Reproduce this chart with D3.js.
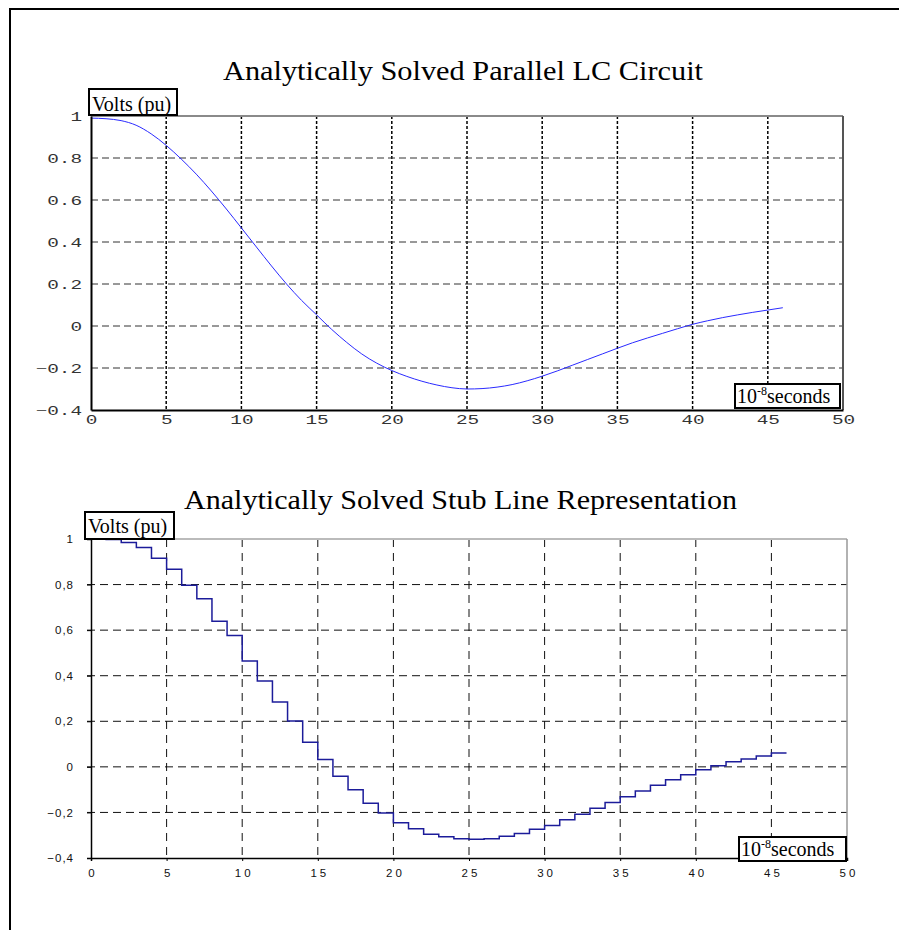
<!DOCTYPE html>
<html>
<head>
<meta charset="utf-8">
<script src="https://d3js.org/d3.v7.min.js"></script>
<style>
  body { margin: 0; background: #fff; }
  svg { display: block; }
</style>
</head>
<body>
<script>

// data
var timeTop = [0, 1, 2, 3, 4, 5, 6, 7, 8, 9, 10, 11, 12, 13, 14, 15, 16, 17, 18, 19, 20, 21, 22, 23,
               24, 25, 26, 27, 28, 29, 30, 31, 32, 33, 34, 35, 36, 37, 38, 39, 40, 41, 42, 43, 44, 45, 46];
var voltsTop = [0.99, 0.987, 0.978, 0.956, 0.915, 0.86, 0.795, 0.723, 0.643, 0.557, 0.467, 0.376, 0.286, 0.2,
                0.122, 0.053, -0.016, -0.078, -0.133, -0.177, -0.212, -0.24, -0.263, -0.281, -0.294, -0.30,
                -0.298, -0.291, -0.279, -0.261, -0.239, -0.214, -0.187, -0.16, -0.133, -0.106, -0.08, -0.057,
                -0.035, -0.013, 0.008, 0.025, 0.04, 0.053, 0.065, 0.076, 0.087];

// stub line: one value per time step [i, i+1)
var stubTime = [0, 1, 2, 3, 4, 5, 6, 7, 8, 9, 10, 11, 12, 13, 14, 15, 16, 17, 18, 19, 20, 21, 22, 23,
                24, 25, 26, 27, 28, 29, 30, 31, 32, 33, 34, 35, 36, 37, 38, 39, 40, 41, 42, 43, 44, 45, 46];
var stubVolts = [1.0, 0.998, 0.985, 0.963, 0.915, 0.867, 0.797, 0.738, 0.639, 0.577, 0.465, 0.377, 0.285,
                 0.201, 0.108, 0.032, -0.041, -0.101, -0.160, -0.202, -0.245, -0.272, -0.296, -0.307,
                 -0.316, -0.318, -0.315, -0.305, -0.293, -0.274, -0.257, -0.232, -0.208, -0.182, -0.156,
                 -0.131, -0.106, -0.081, -0.057, -0.035, -0.013, 0.005, 0.022, 0.035, 0.048, 0.061];

var xTicks = [0, 5, 10, 15, 20, 25, 30, 35, 40, 45, 50];
var yTicks = [-0.4, -0.2, 0, 0.2, 0.4, 0.6, 0.8, 1];

var titleTop = "Analytically Solved Parallel LC Circuit";
var titleBottom = "Analytically Solved Stub Line Representation";

var width = 899, height = 930;

var svg = d3.select("body").append("svg")
    .attr("width", width)
    .attr("height", height);

// page frame
svg.append("path")
    .attr("d", "M10," + height + "V9H" + width)
    .attr("fill", "none")
    .attr("stroke", "#000")
    .attr("stroke-width", 2);

// ---------- top chart ----------
var x1 = d3.scaleLinear().domain([0, 50]).range([91, 843]);
var y1 = d3.scaleLinear().domain([-0.4, 1]).range([410, 116]);

var topChart = svg.append("g");

topChart.append("text")
    .attr("x", 223).attr("y", 80)
    .attr("textLength", 480).attr("lengthAdjust", "spacingAndGlyphs")
    .style("font-family", "'Liberation Serif', 'Times New Roman', serif")
    .style("font-size", "28px")
    .text(titleTop);

// grid
topChart.selectAll(".vgrid")
    .data(xTicks.filter(function(d) { return d > 0 && d < 50; }))
    .enter().append("line")
    .attr("x1", function(d) { return x1(d); })
    .attr("x2", function(d) { return x1(d); })
    .attr("y1", y1(1)).attr("y2", y1(-0.4))
    .attr("stroke", "#000").attr("stroke-width", 1.5)
    .style("stroke-dasharray", "3, 2");

topChart.selectAll(".hgrid")
    .data(yTicks.filter(function(d) { return d > -0.4 && d < 1; }))
    .enter().append("line")
    .attr("x1", x1(0)).attr("x2", x1(50))
    .attr("y1", function(d) { return y1(d); })
    .attr("y2", function(d) { return y1(d); })
    .attr("stroke", "#333").attr("stroke-width", 1)
    .style("stroke-dasharray", "7, 4");

// curve
var lineTop = d3.line()
    .x(function(d, i) { return x1(timeTop[i]); })
    .y(function(d) { return y1(d); })
    .curve(d3.curveMonotoneX);

topChart.append("path")
    .datum(voltsTop)
    .attr("d", lineTop)
    .attr("fill", "none")
    .attr("stroke", "#2a2aff")
    .attr("stroke-width", 1);

// frame
topChart.append("line").attr("x1", x1(0)).attr("x2", x1(50)).attr("y1", y1(1)).attr("y2", y1(1))
    .attr("stroke", "#8a8a8a").attr("stroke-width", 2);
topChart.append("line").attr("x1", x1(50)).attr("x2", x1(50)).attr("y1", y1(1)).attr("y2", y1(-0.4))
    .attr("stroke", "#555").attr("stroke-width", 2);

var xAxisTop = d3.axisBottom(x1).tickValues(xTicks).tickSize(0).tickPadding(5)
    .tickFormat(d3.format("d"));
var yAxisTop = d3.axisLeft(y1).tickValues(yTicks).tickSize(0).tickPadding(0)
    .tickFormat(function(d) { return d3.format(".1f")(d).replace(/\.0$/, ""); });

var gx1 = topChart.append("g").attr("transform", "translate(0," + y1(-0.4) + ")").call(xAxisTop);
var gy1 = topChart.append("g").attr("transform", "translate(" + x1(0) + ",0)").call(yAxisTop);

// wide, evenly spaced digits like the original plotting program
var sx = 1.55;
[gx1, gy1].forEach(function(g) {
  g.select(".domain").attr("stroke", "#000").attr("stroke-width", 2);
  g.selectAll("text")
    .style("font-family", "'Liberation Mono', 'DejaVu Sans Mono', monospace")
    .style("font-size", "12.5px")
    .attr("fill", "#333");
});
gx1.selectAll("text").attr("transform", "scale(" + sx + ",1)");
gy1.selectAll("text").attr("x", -9 / sx).attr("transform", "scale(" + sx + ",1)");

// axis label boxes
function labelBox(g, bx, by, bw, bh, tx, ty, sup) {
  g.append("rect")
      .attr("x", bx).attr("y", by).attr("width", bw).attr("height", bh)
      .attr("fill", "#fff").attr("stroke", "#000").attr("stroke-width", 2);
  var t = g.append("text")
      .attr("x", tx).attr("y", ty)
      .style("font-family", "'Liberation Serif', 'Times New Roman', serif")
      .style("font-size", "20px");
  if (sup) {
    t.append("tspan").text("10");
    t.append("tspan").attr("dy", -8).style("font-size", "12px").text("-8");
    t.append("tspan").attr("dy", 8).text("seconds");
  } else {
    t.text("Volts (pu)");
  }
}

labelBox(topChart, 89, 89, 88, 26, 92, 111, false);
labelBox(topChart, 735, 384, 105, 24, 737, 403, true);

// ---------- bottom chart ----------
var x2 = d3.scaleLinear().domain([0, 50]).range([91, 847]);
var y2 = d3.scaleLinear().domain([-0.4, 1]).range([858, 539]);

var botChart = svg.append("g");

botChart.append("text")
    .attr("x", 184).attr("y", 509)
    .attr("textLength", 553).attr("lengthAdjust", "spacingAndGlyphs")
    .style("font-family", "'Liberation Serif', 'Times New Roman', serif")
    .style("font-size", "28px")
    .text(titleBottom);

botChart.selectAll(".vgrid")
    .data(xTicks.filter(function(d) { return d > 0 && d < 50; }))
    .enter().append("line")
    .attr("x1", function(d) { return x2(d); })
    .attr("x2", function(d) { return x2(d); })
    .attr("y1", y2(1)).attr("y2", y2(-0.4))
    .attr("stroke", "#111").attr("stroke-width", 1)
    .style("stroke-dasharray", "8, 6");

botChart.selectAll(".hgrid")
    .data(yTicks.filter(function(d) { return d > -0.4 && d < 1; }))
    .enter().append("line")
    .attr("x1", x2(0) - 4).attr("x2", x2(50))
    .attr("y1", function(d) { return y2(d); })
    .attr("y2", function(d) { return y2(d); })
    .attr("stroke", "#111").attr("stroke-width", 1)
    .style("stroke-dasharray", "8, 5");

var stubPts = stubVolts.map(function(v, i) { return [stubTime[i], v]; });
stubPts.push([stubTime[stubVolts.length], stubVolts[stubVolts.length - 1]]);

var lineStub = d3.line()
    .x(function(d) { return x2(d[0]); })
    .y(function(d) { return y2(d[1]); })
    .curve(d3.curveStepAfter);

botChart.append("path")
    .datum(stubPts)
    .attr("d", lineStub)
    .attr("fill", "none")
    .attr("stroke", "#1c1c9a")
    .attr("stroke-width", 1.5);

botChart.append("line").attr("x1", x2(0)).attr("x2", x2(50)).attr("y1", y2(1)).attr("y2", y2(1))
    .attr("stroke", "#bbb").attr("stroke-width", 2);
botChart.append("line").attr("x1", x2(50)).attr("x2", x2(50)).attr("y1", y2(1)).attr("y2", y2(-0.4))
    .attr("stroke", "#999").attr("stroke-width", 1.5);

var xAxisBot = d3.axisBottom(x2).tickValues(xTicks).tickSize(3).tickPadding(8)
    .tickFormat(d3.format("d"));
var yAxisBot = d3.axisLeft(y2).tickValues(yTicks).tickSize(4).tickPadding(13)
    .tickFormat(function(d) { return d3.format(".1f")(d).replace(/\.0$/, "").replace(".", ","); });

var gx2 = botChart.append("g").attr("transform", "translate(0," + y2(-0.4) + ")").call(xAxisBot);
var gy2 = botChart.append("g").attr("transform", "translate(" + x2(0) + ",0)").call(yAxisBot);

[gx2, gy2].forEach(function(g) {
  g.select(".domain").attr("stroke", "#000").attr("stroke-width", 1.5);
  g.selectAll(".tick line").attr("stroke", "#000");
  g.selectAll("text")
    .style("font-family", "'Liberation Sans', Arial, sans-serif")
    .style("font-size", "11.5px")
    .style("letter-spacing", "3px")
    .attr("fill", "#111");
});
gx2.selectAll("text").attr("dx", 1.5);
gy2.selectAll("text").style("letter-spacing", "1px");

labelBox(botChart, 85, 512, 89, 27, 88, 533, false);
labelBox(botChart, 739, 837, 107, 24, 741, 856, true);

</script>
</body>
</html>
